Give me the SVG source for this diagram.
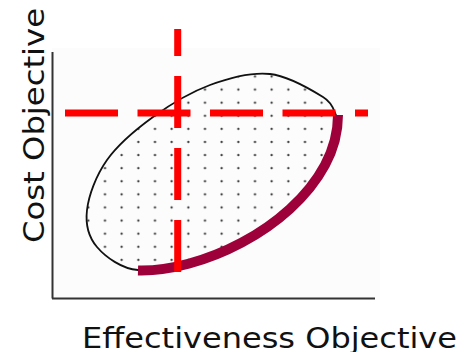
<svg xmlns="http://www.w3.org/2000/svg" width="475" height="352" viewBox="0 0 475 352">
<style>
.axis{stroke:#333;stroke-width:2;fill:none}
.outline{stroke:#111;stroke-width:1.8;fill:none;stroke-linecap:round}
.front{stroke:#9E0039;stroke-width:10;fill:none;stroke-linecap:butt}
.dash{stroke:#FF0000;stroke-width:7;fill:none}
.lbl{font-family:"DejaVu Sans","Liberation Sans",sans-serif;font-size:28px;fill:#111}
</style>
<defs>
<pattern id="dots" patternUnits="userSpaceOnUse" x="80" y="83" width="16.667" height="13.1">
<circle cx="8.33" cy="6.55" r="1.1" fill="#333"/>
</pattern>
<clipPath id="region">
<path d="M138,270 C122,269 105.5,257 97,247 C88.5,237 85.3,224.5 87,210 C88.7,195.5 96,175.5 107,160 C118,144.5 135.8,129.5 153,117 C170.2,104.5 190.5,92.2 210,85 C229.5,77.8 251.2,72 270,74 C288.8,76 312,90.2 323,97 C334,103.8 333.8,112 336,115 L338,115 C338,135 333,150 325,165 C290,230 200,272 138,270.5 Z"/>
</clipPath>
</defs>
<rect x="52" y="48" width="328" height="252" fill="#FCFCFC"/>
<g id="axes">
<line class="axis" x1="52.5" y1="52" x2="52.5" y2="298.5"/>
<line class="axis" x1="52" y1="298.5" x2="375" y2="298.5"/>
</g>
<g id="feasible-region">
<rect x="80" y="60" width="270" height="220" fill="url(#dots)" clip-path="url(#region)"/>
<path class="outline" d="M138,270 C122,269 105.5,257 97,247 C88.5,237 85.3,224.5 87,210 C88.7,195.5 96,175.5 107,160 C118,144.5 135.8,129.5 153,117 C170.2,104.5 190.5,92.2 210,85 C229.5,77.8 251.2,72 270,74 C288.8,76 312,90.2 323,97 C334,103.8 333.8,112 336,115"/>
</g>
<g id="pareto-front">
<path class="front" d="M138,270.5 C200,272 290,230 325,165 C333,150 338,135 338,115"/>
</g>
<g id="connectors">
<line class="dash" x1="177.7" y1="29" x2="177.7" y2="273" stroke-dasharray="52 20" stroke-dashoffset="25"/>
<line class="dash" x1="65" y1="113" x2="368" y2="113" stroke-dasharray="53 19.5"/>
</g>
<g id="labels">
<text class="lbl" transform="translate(43.5,243) rotate(-90)" x="0" y="0" textLength="235" lengthAdjust="spacingAndGlyphs">Cost Objective</text>
<text class="lbl" x="82" y="347.5" textLength="375" lengthAdjust="spacingAndGlyphs">Effectiveness Objective</text>
</g>
</svg>
